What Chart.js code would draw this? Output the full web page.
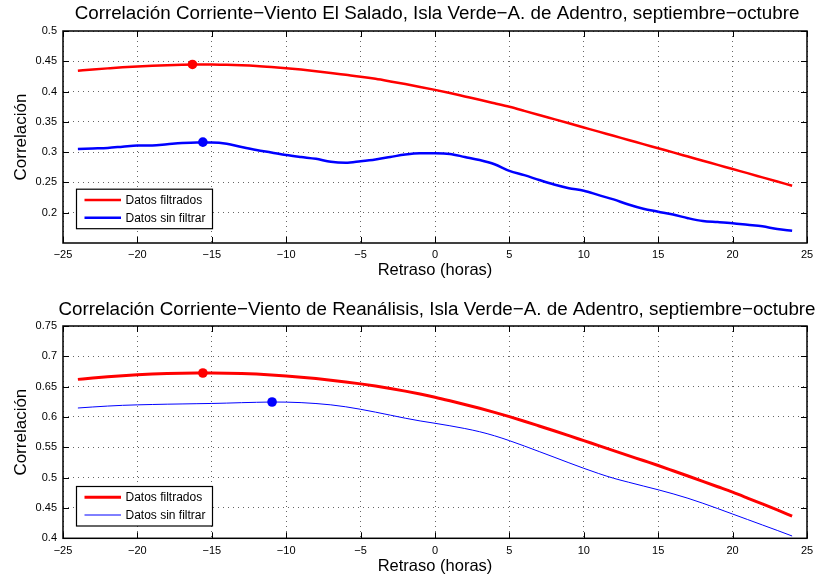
<!DOCTYPE html>
<html><head><meta charset="utf-8">
<script src="https://cdn.jsdelivr.net/npm/chart.js@4.4.0/dist/chart.umd.min.js"></script>
<style>
html,body{margin:0;padding:0;background:#fff;overflow:hidden;}
canvas{position:absolute;left:0;}
#c1{top:0;}
#c2{top:290px;}
</style></head><body>
<canvas id="c1" width="819" height="290"></canvas>
<canvas id="c2" width="819" height="288"></canvas>
<script>
// ---- data ----
const lags = [-24,-23,-22,-21,-20,-19,-18,-17,-16,-15,-14,-13,-12,-11,-10,-9,-8,-7,-6,-5,-4,-3,-2,-1,0,1,2,3,4,5,6,7,8,9,10,11,12,13,14,15,16,17,18,19,20,21,22,23,24];

const topFiltered = [0.4345,0.4365,0.4383,0.4400,0.4414,0.4426,0.4436,0.4443,0.4447,0.4448,
  0.4443,0.4435,0.4423,0.4406,0.4386,0.4363,0.4337,0.4308,0.4277,0.4246,
  0.4210,0.4168,0.4124,0.4077,0.4028,0.3975,0.3920,0.3865,0.3807,0.3748,
  0.3682,0.3614,0.3545,0.3476,0.3407,0.3338,0.3270,0.3201,0.3133,0.3064,
  0.2996,0.2927,0.2858,0.2790,0.2721,0.2653,0.2584,0.2515,0.2446];
const topRaw = [0.305,0.306,0.307,0.309,0.311,0.311,0.313,0.315,0.316,0.3160,
  0.3140,0.3085,0.3035,0.2995,0.2953,0.292,0.289,0.284,0.2825,0.285,
  0.288,0.292,0.296,0.298,0.298,0.297,0.292,0.287,0.280,0.269,
  0.262,0.254,0.2465,0.2405,0.2364,0.229,0.222,0.2135,0.2065,0.2017,
  0.197,0.191,0.1863,0.1845,0.1825,0.180,0.1775,0.173,0.1704];
const topPeakLag = [-16.3, -15.6];
const topPeakVal = [0.4448, 0.3165];

const botFiltered = [0.6620,0.6643,0.6664,0.6681,0.6696,0.6707,0.6716,0.6722,0.6725,0.6725,
  0.6723,0.6717,0.6707,0.6693,0.6676,0.6656,0.6633,0.6607,0.6578,0.6546,
  0.6510,0.6470,0.6426,0.6378,0.6326,0.6268,0.6207,0.6143,0.6076,0.6005,
  0.5930,0.5852,0.5773,0.5692,0.5610,0.5528,0.5446,0.5364,0.5282,0.5200,
  0.5114,0.5027,0.4939,0.4850,0.4760,0.4664,0.4566,0.4467,0.4367];
const botRaw = [0.6148,0.6165,0.6180,0.6192,0.6200,0.6206,0.6211,0.6215,0.6219,0.6223,
  0.6229,0.6236,0.6242,0.6247,0.6245,0.6237,0.6222,0.6200,0.6168,0.6127,
  0.6080,0.6030,0.5980,0.5935,0.5896,0.5855,0.5810,0.5757,0.5690,0.5610,
  0.5522,0.5430,0.5338,0.5245,0.5154,0.5068,0.4990,0.4925,0.4862,0.4800,
  0.4733,0.4660,0.4578,0.4490,0.4400,0.4310,0.4220,0.4130,0.4038];
const botPeakLag = [-15.6, -10.95];
const botPeakVal = [0.6725, 0.6247];

const xTicks = [-25,-20,-15,-10,-5,0,5,10,15,20,25];
const topYTicks = [0.2,0.25,0.3,0.35,0.4,0.45,0.5];
const botYTicks = [0.4,0.45,0.5,0.55,0.6,0.65,0.7,0.75];
const seriesLabels = ['Datos filtrados','Datos sin filtrar'];
const topTitle = 'Correlación Corriente\u2212Viento El Salado, Isla Verde\u2212A. de Adentro, septiembre\u2212octubre';
const botTitle = 'Correlación Corriente\u2212Viento de Reanálisis, Isla Verde\u2212A. de Adentro, septiembre\u2212octubre';
const xLabel = 'Retraso (horas)';
const yLabel = 'Correlación';

// ---- rendering ----
const FONT = "'Liberation Sans', Arial, Helvetica, sans-serif";

const matlabPlugin = {
  id: 'matlab',
  afterDraw(chart, args, opts) {
    const ctx = chart.ctx, a = chart.chartArea;
    const xs = chart.scales.x, ys = chart.scales.y;
    ctx.save();
    // title
    ctx.fillStyle = '#000';
    ctx.font = '18.8px ' + FONT;
    ctx.textAlign = 'center';
    ctx.textBaseline = 'alphabetic';
    ctx.fillText(opts.title, (a.left + a.right) / 2 + 2, opts.titleBaseline);
    // box
    ctx.strokeStyle = '#000';
    ctx.lineWidth = 1.5;
    ctx.strokeRect(a.left, a.top, a.right - a.left, a.bottom - a.top);
    // inward tick marks
    ctx.lineWidth = 1;
    const tl = 6;
    ctx.beginPath();
    xs.ticks.forEach(t => {
      const px = Math.round(xs.getPixelForValue(t.value)) + 0.5;
      ctx.moveTo(px, a.bottom); ctx.lineTo(px, a.bottom - tl);
      ctx.moveTo(px, a.top); ctx.lineTo(px, a.top + tl);
    });
    ys.ticks.forEach(t => {
      const py = Math.round(ys.getPixelForValue(t.value)) + 0.5;
      ctx.moveTo(a.left, py); ctx.lineTo(a.left + tl, py);
      ctx.moveTo(a.right, py); ctx.lineTo(a.right - tl, py);
    });
    ctx.stroke();
    // legend
    const bx = a.left + 13.5, bw = 136, bh = 39.5;
    const by = a.bottom - opts.legendBottom - bh;
    ctx.fillStyle = '#fff';
    ctx.fillRect(bx, by, bw, bh);
    ctx.lineWidth = 1.2;
    ctx.strokeStyle = '#000';
    ctx.strokeRect(bx, by, bw, bh);
    const rows = [10.8, 28.5];
    ctx.font = '12px ' + FONT;
    ctx.textAlign = 'left';
    ctx.textBaseline = 'middle';
    [0, 1].forEach(i => {
      const ds = chart.data.datasets[i];
      const y = by + rows[i];
      ctx.beginPath();
      ctx.strokeStyle = ds.borderColor;
      ctx.lineWidth = ds.borderWidth;
      ctx.moveTo(bx + 8, y); ctx.lineTo(bx + 44.5, y);
      ctx.stroke();
      ctx.fillStyle = '#000';
      ctx.fillText(ds.label, bx + 49, y + 0.5);
    });
    ctx.restore();
  }
};

function fmtX(v) { return v < 0 ? '\u2212' + Math.abs(v) : String(v); }
function fmtY(v) { return String(Math.round(v * 100) / 100); }

function makeChart(id, c) {
  const pts = arr => lags.map((x, i) => ({x: x, y: arr[i]}));
  return new Chart(document.getElementById(id), {
    type: 'line',
    data: {
      datasets: [
        {label: seriesLabels[0], data: pts(c.filt), borderColor: '#ff0000', borderWidth: c.wF,
         pointRadius: 0, cubicInterpolationMode: 'monotone', fill: false},
        {label: seriesLabels[1], data: pts(c.raw), borderColor: '#0000ff', borderWidth: c.wR,
         pointRadius: 0, cubicInterpolationMode: 'monotone', fill: false},
        {label: 'max1', data: [{x: c.peakLag[0], y: c.peakVal[0]}], showLine: false,
         pointRadius: 4.8, pointBackgroundColor: '#ff0000', pointBorderWidth: 0, borderColor: '#ff0000'},
        {label: 'max2', data: [{x: c.peakLag[1], y: c.peakVal[1]}], showLine: false,
         pointRadius: 4.8, pointBackgroundColor: '#0000ff', pointBorderWidth: 0, borderColor: '#0000ff'}
      ]
    },
    options: {
      responsive: false, animation: false, devicePixelRatio: 1,
      layout: {padding: {left: 0, right: 12, top: c.areaTop, bottom: 0}},
      plugins: {
        legend: {display: false}, tooltip: {enabled: false}, title: {display: false},
        matlab: {title: c.title, titleBaseline: c.titleBaseline, legendBottom: c.legendBottom}
      },
      scales: {
        x: {
          type: 'linear', min: -25, max: 25,
          afterBuildTicks: s => { s.ticks = xTicks.map(v => ({value: v})); },
          afterFit: s => { s.height = c.xH; },
          ticks: {color: '#000', font: {family: FONT, size: 11}, padding: 5.6, maxRotation: 0,
                  autoSkip: false, callback: v => fmtX(v)},
          grid: {drawTicks: false, color: 'rgba(0,0,0,0.6)', lineWidth: 1},
          border: {display: false, dash: [1, 4]},
          title: {display: true, text: xLabel, color: '#000', font: {family: FONT, size: 16.5},
                  padding: {top: 0, bottom: c.xTitlePad}}
        },
        y: {
          type: 'linear', min: c.yMin, max: c.yMax,
          afterBuildTicks: s => { s.ticks = c.yTicks.map(v => ({value: v})); },
          afterFit: s => { s.width = 63; },
          ticks: {color: '#000', font: {family: FONT, size: 11}, padding: 6,
                  autoSkip: false, callback: v => fmtY(v)},
          grid: {drawTicks: false, color: 'rgba(0,0,0,0.6)', lineWidth: 1},
          border: {display: false, dash: [1, 4]},
          title: {display: true, text: yLabel, color: '#000', font: {family: FONT, size: 17},
                  padding: {top: 11, bottom: 0}}
        }
      }
    },
    plugins: [matlabPlugin]
  });
}

makeChart('c1', {filt: topFiltered, raw: topRaw, peakLag: topPeakLag, peakVal: topPeakVal,
  wF: 2.5, wR: 2.5, yMin: 0.15, yMax: 0.5, yTicks: topYTicks, title: topTitle,
  titleBaseline: 19, areaTop: 31, xH: 47, xTitlePad: 9.2, legendBottom: 14.3});
makeChart('c2', {filt: botFiltered, raw: botRaw, peakLag: botPeakLag, peakVal: botPeakVal,
  wF: 3, wR: 1, yMin: 0.4, yMax: 0.75, yTicks: botYTicks, title: botTitle,
  titleBaseline: 25, areaTop: 36, xH: 39.7, xTitlePad: 1.9, legendBottom: 12.3});
</script>
</body></html>
